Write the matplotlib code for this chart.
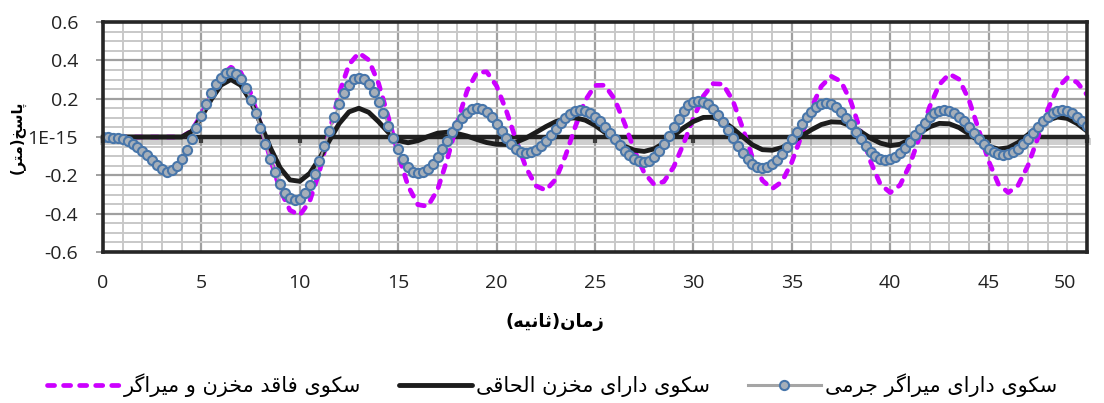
import matplotlib
matplotlib.use("Agg")
import matplotlib.pyplot as plt
import matplotlib.patheffects as pe
from matplotlib.lines import Line2D
from matplotlib.transforms import ScaledTranslation
import numpy as np

# time axis (s)
t_fine = np.linspace(0, 50, 201)
t_coarse = np.linspace(0, 50, 101)

# platform with tuned mass damper (markers)
resp_damper = [
    0.0, -0.001, -0.003, -0.007, -0.013, -0.022, -0.035, -0.052, -0.072, -0.095, -0.12, -0.144, -0.165, -0.18,
    -0.172, -0.150, -0.115, -0.068, -0.012, 0.049, 0.111, 0.172, 0.228, 0.275, 0.310, 0.332, 0.34,
    0.330, 0.302, 0.256, 0.195, 0.124, 0.045, -0.035, -0.114, -0.185, -0.246, -0.292, -0.320, -0.33,
    -0.321, -0.293, -0.250, -0.192, -0.124, -0.049, 0.029, 0.103, 0.172, 0.229, 0.273, 0.301, 0.31,
    0.301, 0.276, 0.237, 0.185, 0.125, 0.06, -0.005, -0.065, -0.117, -0.157, -0.181, -0.19,
    -0.184, -0.167, -0.140, -0.105, -0.064, -0.02, 0.024, 0.065, 0.100, 0.127, 0.144, 0.15,
    0.144, 0.128, 0.102, 0.069, 0.033, -0.004, -0.037, -0.063, -0.079, -0.085,
    -0.080, -0.067, -0.046, -0.019, 0.012, 0.044, 0.074, 0.101, 0.122, 0.135, 0.14,
    0.136, 0.125, 0.106, 0.082, 0.053, 0.021, -0.011, -0.043, -0.072, -0.096, -0.115, -0.126, -0.13,
    -0.124, -0.105, -0.075, -0.037, 0.007, 0.053, 0.096, 0.135, 0.165, 0.183, 0.19,
    0.185, 0.170, 0.146, 0.114, 0.077, 0.036, -0.006, -0.047, -0.084, -0.116, -0.140, -0.155, -0.16,
    -0.155, -0.141, -0.118, -0.088, -0.052, -0.013, 0.028, 0.067, 0.103, 0.133, 0.156, 0.170, 0.175,
    0.170, 0.155, 0.132, 0.101, 0.066, 0.028, -0.011, -0.046, -0.077, -0.100, -0.115, -0.12,
    -0.116, -0.103, -0.082, -0.055, -0.024, 0.010, 0.044, 0.075, 0.102, 0.123, 0.136, 0.14,
    0.136, 0.124, 0.106, 0.081, 0.053, 0.023, -0.008, -0.036, -0.061, -0.079, -0.091, -0.095,
    -0.091, -0.079, -0.061, -0.036, -0.008, 0.023, 0.053, 0.081, 0.106, 0.124, 0.136, 0.14,
    0.136, 0.125, 0.106, 0.083, 0.055,
]

# platform with attached tank (black)
resp_tank = [
    0, 0, 0, 0, 0, 0, 0, 0, 0,
    0.029, 0.104, 0.196, 0.271, 0.30,
    0.270, 0.188, 0.071, -0.055, -0.161, -0.224,
    -0.231, -0.190, -0.113, -0.019, 0.070, 0.131,
    0.150, 0.129, 0.080, 0.024, -0.018,
    -0.030, -0.019, 0.002, 0.020,
    0.025, 0.018, 0.005, -0.013, -0.029, -0.038,
    -0.039, -0.027, -0.005, 0.024, 0.054, 0.080, 0.096,
    0.100, 0.088, 0.061, 0.024, -0.015, -0.048, -0.069,
    -0.075, -0.062, -0.032, 0.007, 0.048, 0.081, 0.102,
    0.103, 0.083, 0.045, 0.001, -0.041, -0.066,
    -0.069, -0.055, -0.028, 0.005, 0.038, 0.065, 0.079,
    0.077, 0.058, 0.028, -0.006, -0.032, -0.045,
    -0.038, -0.013, 0.021, 0.053, 0.071,
    0.069, 0.049, 0.016, -0.020, -0.049, -0.063,
    -0.056, -0.029, 0.012, 0.054, 0.088, 0.104,
    0.097, 0.070, 0.031,
]

# platform without tank and damper (magenta)
resp_bare = [
    0, 0, 0, 0, 0, 0, 0, 0, 0,
    0.032, 0.118, 0.226, 0.319, 0.364,
    0.337, 0.231, 0.069, -0.114, -0.276, -0.382,
    -0.408, -0.336, -0.179, 0.026, 0.228, 0.378, 0.439,
    0.402, 0.281, 0.103, -0.090, -0.255, -0.353,
    -0.362, -0.275, -0.114, 0.075, 0.241, 0.337,
    0.340, 0.266, 0.135, -0.020, -0.161, -0.255,
    -0.278, -0.221, -0.098, 0.054, 0.190, 0.269,
    0.270, 0.197, 0.072, -0.070, -0.187, -0.247,
    -0.233, -0.156, -0.035, 0.099, 0.213, 0.278,
    0.276, 0.191, 0.048, -0.107, -0.226, -0.27,
    -0.233, -0.131, 0.009, 0.153, 0.265, 0.317,
    0.290, 0.185, 0.030, -0.128, -0.247, -0.29,
    -0.251, -0.144, 0.004, 0.157, 0.274, 0.329,
    0.301, 0.194, 0.037, -0.125, -0.246, -0.29,
    -0.252, -0.149, -0.005, 0.142, 0.256, 0.309,
    0.285, 0.22,
]

x_ticks = [0, 5, 10, 15, 20, 25, 30, 35, 40, 45, 50]
y_ticks = [-0.6, -0.4, -0.2, 0.0, 0.2, 0.4, 0.6]
y_tick_labels = ["-0.6", "-0.4", "-0.2", "1E-15", "0.2", "0.4", "0.6"]

label_bare = "سکوی فاقد مخزن و میراگر"
label_tank = "سکوی دارای مخزن الحاقی"
label_damper = "سکوی دارای میراگر جرمی"
x_title = "زمان(ثانیه)"
y_title = "پاسخ(متر)"

# matplotlib has no arabic shaping: map letters to presentation forms by hand
FORMS = {
    "ا": ("\uFE8D", "\uFE8E", None, None),
    "د": ("\uFEA9", "\uFEAA", None, None),
    "ر": ("\uFEAD", "\uFEAE", None, None),
    "ز": ("\uFEAF", "\uFEB0", None, None),
    "و": ("\uFEED", "\uFEEE", None, None),
    "پ": ("\uFB56", "\uFB57", "\uFB58", "\uFB59"),
    "ت": ("\uFE95", "\uFE96", "\uFE97", "\uFE98"),
    "ث": ("\uFE99", "\uFE9A", "\uFE9B", "\uFE9C"),
    "ج": ("\uFE9D", "\uFE9E", "\uFE9F", "\uFEA0"),
    "ح": ("\uFEA1", "\uFEA2", "\uFEA3", "\uFEA4"),
    "خ": ("\uFEA5", "\uFEA6", "\uFEA7", "\uFEA8"),
    "س": ("\uFEB1", "\uFEB2", "\uFEB3", "\uFEB4"),
    "ف": ("\uFED1", "\uFED2", "\uFED3", "\uFED4"),
    "ق": ("\uFED5", "\uFED6", "\uFED7", "\uFED8"),
    "ک": ("\uFB8E", "\uFB8F", "\uFB90", "\uFB91"),
    "گ": ("\uFB92", "\uFB93", "\uFB94", "\uFB95"),
    "ل": ("\uFEDD", "\uFEDE", "\uFEDF", "\uFEE0"),
    "م": ("\uFEE1", "\uFEE2", "\uFEE3", "\uFEE4"),
    "ن": ("\uFEE5", "\uFEE6", "\uFEE7", "\uFEE8"),
    "ه": ("\uFEE9", "\uFEEA", "\uFEEB", "\uFEEC"),
    "ی": ("\uFBFC", "\uFBFD", "\uFBFE", "\uFBFF"),
}


def shape(text):
    out = []
    for i, c in enumerate(text):
        if c not in FORMS:
            out.append(c)
            continue
        prev = text[i - 1] if i > 0 else ""
        nxt = text[i + 1] if i + 1 < len(text) else ""
        join_prev = prev in FORMS and FORMS[prev][2] is not None
        join_next = nxt in FORMS and FORMS[c][2] is not None
        iso, fin, ini, med = FORMS[c]
        if join_prev and join_next:
            out.append(med)
        elif join_prev:
            out.append(fin)
        elif join_next:
            out.append(ini)
        else:
            out.append(iso)
    mirror = {"(": ")", ")": "("}
    return "".join(mirror.get(ch, ch) for ch in "".join(out)[::-1])


MAGENTA = dict(color="#cc00ff", lw=3.4, linestyle=(0, (1.5, 1.9)), dash_capstyle="round")
BLACK = dict(color="#1c1c1c", lw=3.5, solid_capstyle="round")
MARKERS = dict(marker="o", markersize=6.6, markerfacecolor="#a6afb9",
               markeredgecolor="#4876aa", markeredgewidth=1.5)

fig = plt.figure(figsize=(11.04, 4.03), dpi=100)
ax = fig.add_axes([103 / 1104, 1 - 252 / 403, 984 / 1104, 230 / 403])

ax.plot(t_coarse, resp_bare, zorder=2, **MAGENTA)
ax.plot(t_coarse, resp_tank, zorder=2.1, **BLACK)
ax.plot(t_fine, resp_damper, color="#a5a5a5", lw=1.5, zorder=2.2, **MARKERS)

ax.set_xlim(0, 50)
ax.set_ylim(-0.6, 0.6)
ax.set_xticks(x_ticks)
ax.set_xticks(np.arange(0, 51, 1), minor=True)
ax.set_yticks(y_ticks)
ax.set_yticklabels(y_tick_labels)
ax.set_yticks(np.arange(-0.6, 0.61, 0.05), minor=True)
ax.set_axisbelow(True)
ax.grid(which="minor", color="#c8c8c8", lw=1.4)
ax.grid(which="major", color="#a0a0a0", lw=1.6)

for sp in ax.spines.values():
    sp.set_linewidth(2.6)
    sp.set_color("#262626")

ax.tick_params(axis="x", which="both", length=0, pad=16, labelsize=14)
ax.tick_params(axis="y", which="major", length=5, width=1.3, color="#999999", pad=13, labelsize=14)
ax.tick_params(axis="y", which="minor", length=0)
for lab in ax.get_xticklabels() + ax.get_yticklabels():
    lab.set_fontfamily("Open Sans")
    lab.set_color("#222222")
last = ax.get_xticklabels()[-1]
last.set_transform(last.get_transform() + ScaledTranslation(-22 / 100, 0, fig.dpi_scale_trans))

# horizontal axis crossing at zero, with shadow
zero_axis = ax.secondary_xaxis(0.4999)
zero_axis.set_alignment("bottom")
zero_axis.set_xticks(x_ticks)
zero_axis.tick_params(length=4, width=3, color="#222222", labelbottom=False)
zero_axis.spines["bottom"].set_linewidth(3.2)
zero_axis.spines["bottom"].set_color("#222222")
zero_axis.spines["bottom"].set_path_effects(
    [pe.SimpleLineShadow(offset=(0, -3), shadow_color="#777777", alpha=0.35, linewidth=5), pe.Normal()])
zero_axis.set_zorder(1.5)

fig.text(555 / 1104, 1 - 322 / 403, shape(x_title), ha="center", va="center",
         fontsize=13, fontweight="bold", family="DejaVu Sans")
fig.text(18 / 1104, 1 - 137 / 403, shape(y_title), ha="center", va="center", rotation=90,
         fontsize=10.5, fontweight="bold", family="DejaVu Sans")

handles = [
    Line2D([], [], **MAGENTA),
    Line2D([], [], **BLACK),
    Line2D([], [], color="#a5a5a5", lw=2.2, **MARKERS),
]
fig.legend(handles, [shape(label_bare), shape(label_tank), shape(label_damper)],
           loc="center", bbox_to_anchor=(552 / 1104, 1 - 385 / 403), ncol=3, frameon=False,
           prop={"family": "DejaVu Sans", "size": 15}, handlelength=3.5, handletextpad=0.2,
           columnspacing=1.8)

fig.savefig("out.png", dpi=100)
